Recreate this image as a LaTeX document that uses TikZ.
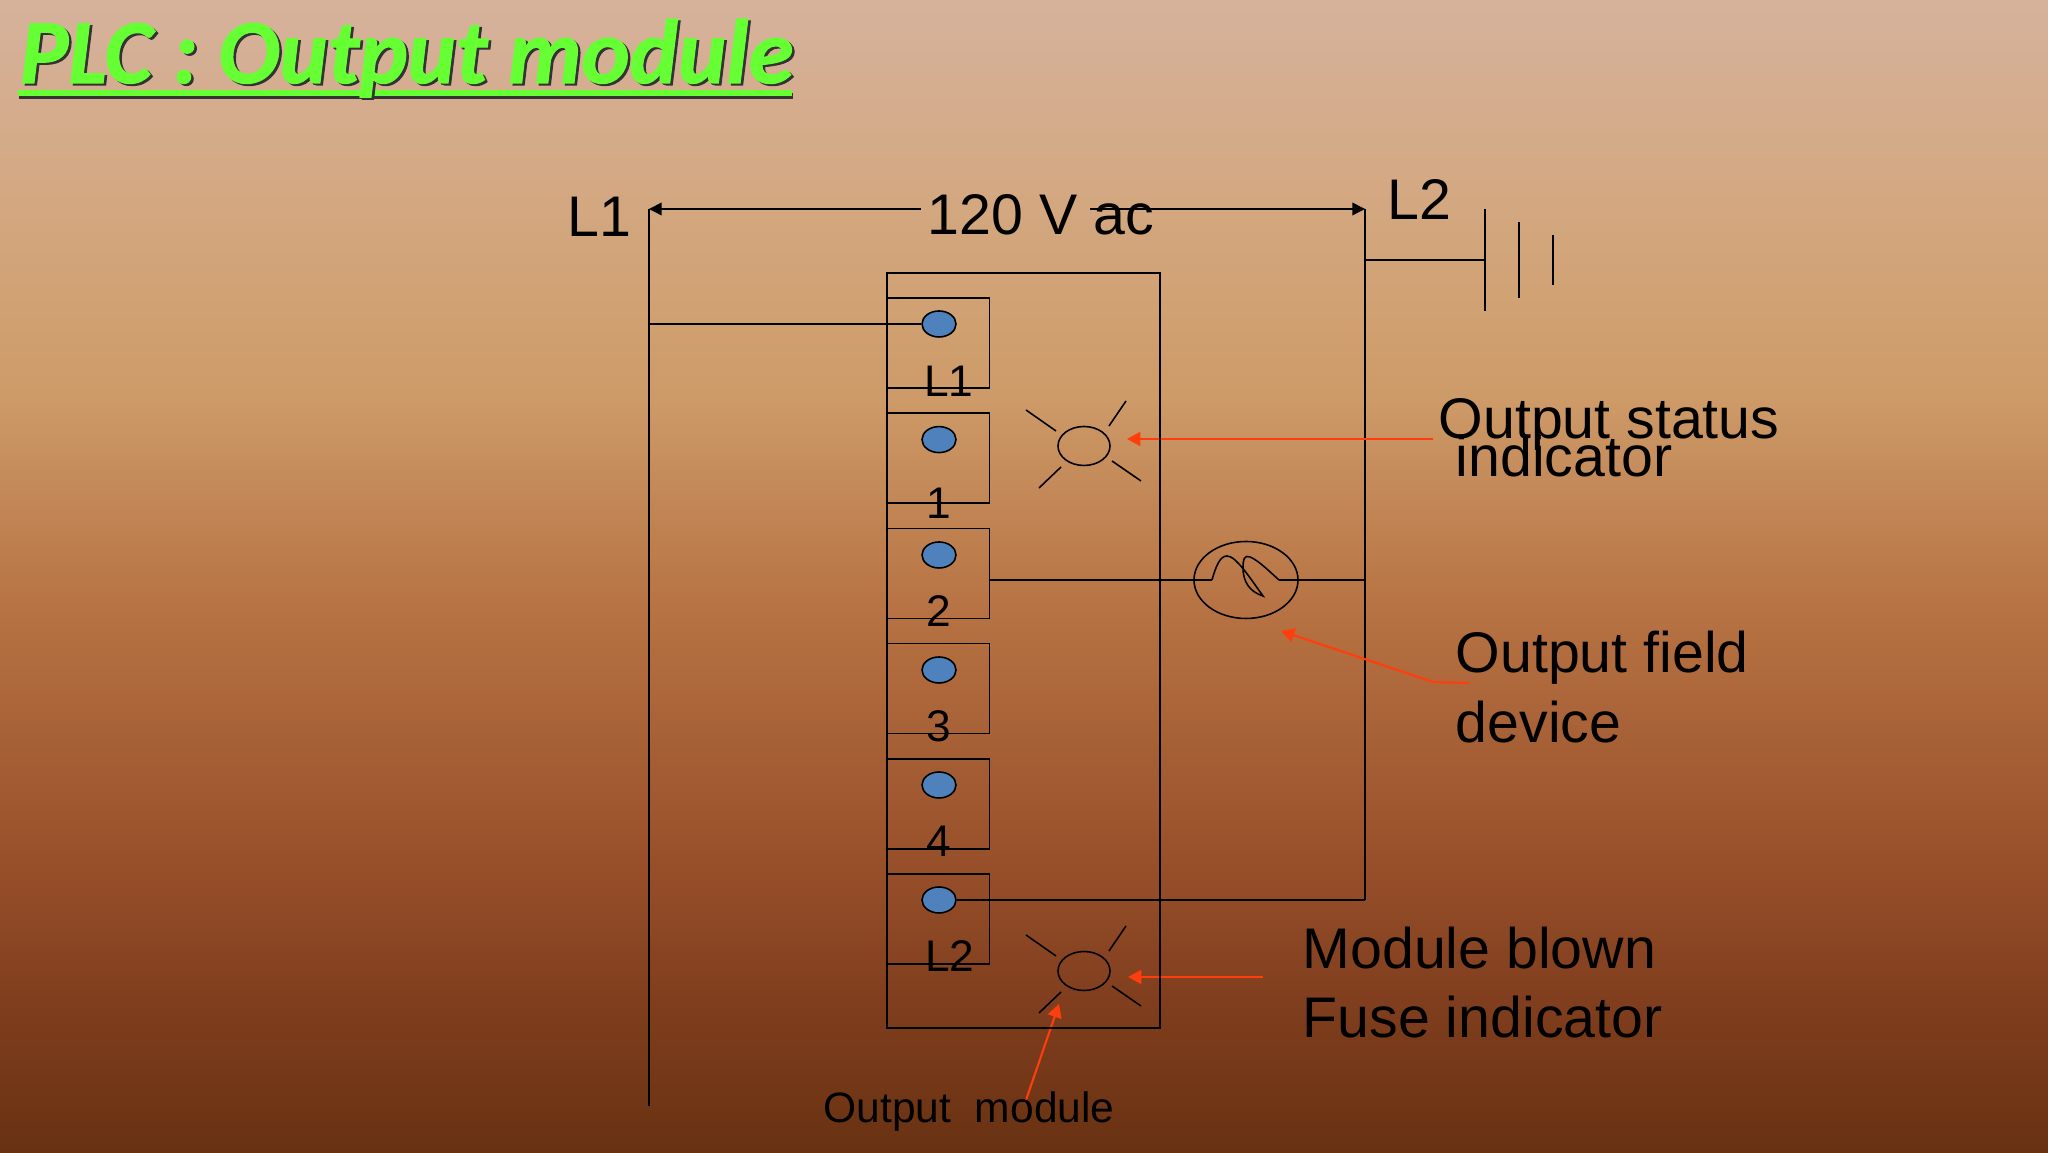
\documentclass[tikz,border=0pt]{standalone}
\usepackage{fontspec}
\setmainfont{Liberation Sans}
\newfontfamily\titlefont[BoldItalicFeatures={FakeBold=1.2}]{Carlito}
\usetikzlibrary{shapes.geometric,arrows.meta}
\pgfdeclarelayer{bg}
\pgfsetlayers{bg,main}
\definecolor{redline}{HTML}{FF3D0D}
\definecolor{titlegreen}{HTML}{66FF33}
\definecolor{dotblue}{HTML}{4F81BD}
\definecolor{bga}{RGB}{104,50,18}
\definecolor{bgb}{RGB}{128,62,30}
\definecolor{bgc}{RGB}{152,80,42}
\definecolor{bgd}{RGB}{172,102,58}
\definecolor{bge}{RGB}{184,116,68}
\definecolor{bgf}{RGB}{205,154,104}
\definecolor{bgg}{RGB}{208,160,112}
\definecolor{bgh}{RGB}{212,170,134}
\definecolor{bgi}{RGB}{214,178,156}
\pgfdeclareverticalshading{slidebg}{100bp}{
    color(0bp)=(bga);
    color(25bp)=(bga);
    color(31.6bp)=(bgb);
    color(37.7bp)=(bgc);
    color(44.64bp)=(bgd);
    color(48.98bp)=(bge);
    color(57.65bp)=(bgf);
    color(60.9bp)=(bgg);
    color(68bp)=(bgh);
    color(75bp)=(bgi);
    color(100bp)=(bgi)}
\tikzset{
    every node/.style={inner sep=0mm},
    wire/.style={line width=.45pt, black},
    blacktip/.style={wire, -{Triangle[length=3.6pt,width=3.6pt]}},
    redarrow/.style={line width=.6pt, redline, -{Triangle[length=3.8pt,width=4pt]}},
    redtail/.style={line width=.6pt, redline},
    terminal/.style={rectangle, draw, line width=.45pt, minimum width=1.02cm, minimum height=.90cm},
    dot/.style={ellipse, draw, line width=.45pt, fill=dotblue, minimum width=.34cm, minimum height=.26cm},
    lamp/.style={ellipse, draw, line width=.45pt, minimum width=.52cm, minimum height=.39cm},
    biglabel/.style={anchor=base west, font=\fontsize{16.3}{19}\selectfont},
    termlabel/.style={anchor=base, font=\fontsize{12.6}{15}\selectfont},
    linelabel/.style={anchor=base west, font=\fontsize{16.3}{19}\selectfont},
    titletext/.style={anchor=base west, font=\titlefont\bfseries\itshape\fontsize{26}{30}\selectfont}
}
\begin{document}
\begin{tikzpicture}
        \useasboundingbox (0cm, 0cm) rectangle (20.48cm, -11.53cm);
        % title
        \node (titleshadow) [titletext, text=black!80] at (0.215cm, -0.85cm) {PLC : Output module};
        \node (title) [titletext, text=titlegreen] at (0.19cm, -0.83cm) {PLC : Output module};
        \coordinate (ul0) at (0.18cm, -0.93cm);
        \coordinate (ul1) at (7.92cm, -0.93cm);
        \coordinate (uls0) at (0.19cm, -0.96cm);
        \coordinate (uls1) at (7.93cm, -0.96cm);
        % rails
        \coordinate (l1top) at (6.49cm, -2.09cm);
        \coordinate (l1bot) at (6.49cm, -11.06cm);
        \coordinate (l2top) at (13.65cm, -2.09cm);
        \coordinate (l2bot) at (13.65cm, -9.00cm);
        \coordinate (l1tap) at (6.49cm, -3.24cm);
        \coordinate (l2tap) at (13.65cm, -2.60cm);
        \coordinate (l2load) at (13.65cm, -5.80cm);
        \coordinate (dimleft) at (9.21cm, -2.09cm);
        \coordinate (dimright) at (10.90cm, -2.09cm);
        \node (volts) [linelabel] at (9.27cm, -2.35cm) {120 V ac};
        \node (railone) [linelabel] at (5.67cm, -2.365cm) {L1};
        \node (railtwo) [linelabel] at (13.87cm, -2.20cm) {L2};
        % ground
        \coordinate (g0a) at (14.85cm, -2.09cm);
        \coordinate (g0b) at (14.85cm, -3.11cm);
        \coordinate (g1a) at (15.19cm, -2.22cm);
        \coordinate (g1b) at (15.19cm, -2.98cm);
        \coordinate (g2a) at (15.53cm, -2.35cm);
        \coordinate (g2b) at (15.53cm, -2.85cm);
        \coordinate (gtap) at (14.85cm, -2.60cm);
        % module
        \node (module) [rectangle, draw, line width=.45pt, minimum width=2.73cm, minimum height=7.55cm] at (10.235cm, -6.505cm) {};
        \node (term0) [terminal] at (9.385cm, -3.43cm) {};
        \node (term1) [terminal] at (9.385cm, -4.58cm) {};
        \node (term2) [terminal] at (9.385cm, -5.735cm) {};
        \node (term3) [terminal] at (9.385cm, -6.885cm) {};
        \node (term4) [terminal] at (9.385cm, -8.04cm) {};
        \node (term5) [terminal] at (9.385cm, -9.19cm) {};
        \node (dot0) [dot] at (9.39cm, -3.24cm) {};
        \node (dot1) [dot] at (9.39cm, -4.396cm) {};
        \node (dot2) [dot] at (9.39cm, -5.55cm) {};
        \node (dot3) [dot] at (9.39cm, -6.70cm) {};
        \node (dot4) [dot] at (9.39cm, -7.85cm) {};
        \node (dot5) [dot] at (9.39cm, -9.00cm) {};
        \node (tl0) [termlabel] at (9.49cm, -3.97cm) {L1};
        \node (tl1) [termlabel] at (9.385cm, -5.19cm) {1};
        \node (tl2) [termlabel] at (9.385cm, -6.27cm) {2};
        \node (tl3) [termlabel] at (9.385cm, -7.42cm) {3};
        \node (tl4) [termlabel] at (9.385cm, -8.57cm) {4};
        \node (tl5) [termlabel] at (9.50cm, -9.72cm) {L2};
        % lamps
        \node (lamp1) [lamp] at (10.84cm, -4.46cm) {};
        \node (lamp2) [lamp] at (10.84cm, -9.71cm) {};
        \draw [wire] (10.26cm, -4.10cm) -- (10.56cm, -4.31cm);
        \draw [wire] (11.26cm, -4.01cm) -- (11.09cm, -4.26cm);
        \draw [wire] (10.39cm, -4.88cm) -- (10.61cm, -4.67cm);
        \draw [wire] (11.12cm, -4.61cm) -- (11.41cm, -4.81cm);
        \draw [wire] (10.26cm, -9.35cm) -- (10.56cm, -9.56cm);
        \draw [wire] (11.26cm, -9.26cm) -- (11.09cm, -9.51cm);
        \draw [wire] (10.39cm, -10.13cm) -- (10.61cm, -9.92cm);
        \draw [wire] (11.12cm, -9.86cm) -- (11.41cm, -10.06cm);
        % field device
        \node (load) [ellipse, draw, line width=.45pt, minimum width=1.04cm, minimum height=.77cm] at (12.46cm, -5.80cm) {};
        \coordinate (term2out) at (9.90cm, -5.80cm);
        \coordinate (loadin) at (12.12cm, -5.80cm);
        \coordinate (loadout) at (12.79cm, -5.80cm);
        \draw [wire] (loadin) .. controls (12.16cm, -5.66cm) and (12.20cm, -5.56cm) .. (12.27cm, -5.56cm)
                .. controls (12.36cm, -5.56cm) and (12.50cm, -5.78cm) .. (12.63cm, -5.96cm)
                .. controls (12.50cm, -5.92cm) and (12.43cm, -5.82cm) .. (12.43cm, -5.68cm)
                .. controls (12.43cm, -5.58cm) and (12.45cm, -5.55cm) .. (12.50cm, -5.57cm)
                .. controls (12.58cm, -5.60cm) and (12.70cm, -5.72cm) .. (loadout);
        % red labels
        \node (status1) [biglabel] at (14.38cm, -4.385cm) {Output status};
        \node (status2) [biglabel] at (14.55cm, -4.77cm) {indicator};
        \node (field1) [biglabel] at (14.55cm, -6.725cm) {Output field};
        \node (field2) [biglabel] at (14.55cm, -7.425cm) {device};
        \node (fuse1) [biglabel] at (13.02cm, -9.685cm) {Module blown};
        \node (fuse2) [biglabel] at (13.02cm, -10.375cm) {Fuse indicator};
        \node (modname) [anchor=base west, font=\fontsize{12.1}{15}\selectfont] at (8.23cm, -11.23cm) {Output\ \ module};
        \coordinate (statfrom) at (14.33cm, -4.39cm);
        \coordinate (statto) at (11.27cm, -4.39cm);
        \coordinate (fieldfrom) at (14.69cm, -6.83cm);
        \coordinate (fieldbend) at (14.33cm, -6.82cm);
        \coordinate (fieldto) at (12.81cm, -6.31cm);
        \coordinate (fusefrom) at (12.63cm, -9.77cm);
        \coordinate (fuseto) at (11.28cm, -9.77cm);
        \coordinate (modfrom) at (10.25cm, -11.03cm);
        \coordinate (modto) at (10.59cm, -10.04cm);
        \begin{pgfonlayer}{bg}
                \shade [shading=slidebg] (0cm, 0cm) rectangle (20.48cm, -11.53cm);
                \draw (uls0) edge [line width=1.5pt, black!80] (uls1);
                \draw (ul0) edge [line width=1.5pt, titlegreen] (ul1);
                \draw (l1top) edge [wire] (l1bot);
                \draw (l2top) edge [wire] (l2bot);
                \draw (dimleft) edge [blacktip] (l1top);
                \draw (dimright) edge [blacktip] (l2top);
                \draw (l1tap) edge [wire] (dot0);
                \draw (dot5) edge [wire] (l2bot);
                \draw (l2tap) edge [wire] (gtap);
                \draw (g0a) edge [wire] (g0b);
                \draw (g1a) edge [wire] (g1b);
                \draw (g2a) edge [wire] (g2b);
                \draw (term2out) edge [wire] (loadin);
                \draw (loadout) edge [wire] (l2load);
                \draw (statfrom) edge [redarrow] (statto);
                \draw (fieldfrom) edge [redtail] (fieldbend);
                \draw (fieldbend) edge [redarrow] (fieldto);
                \draw (fusefrom) edge [redarrow] (fuseto);
                \draw (modfrom) edge [redarrow] (modto);
        \end{pgfonlayer}
\end{tikzpicture}
\end{document}
